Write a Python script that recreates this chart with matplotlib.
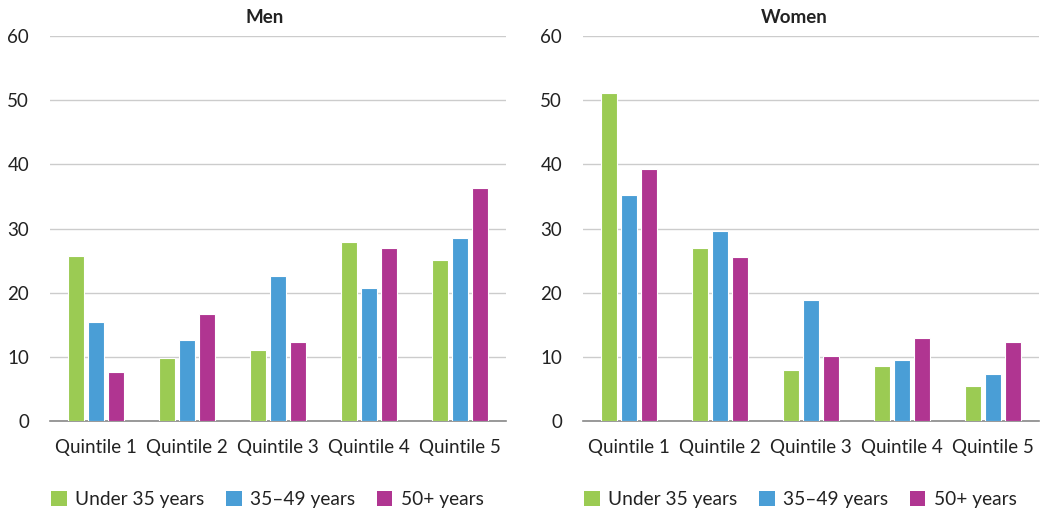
import matplotlib
matplotlib.use("Agg")
import matplotlib.pyplot as plt
import numpy as np
from matplotlib.patches import Patch

categories = ["Quintile 1", "Quintile 2", "Quintile 3", "Quintile 4", "Quintile 5"]
series_names = ["Under 35 years", "35\u201349 years", "50+ years"]
men_under35 = [25.7, 9.8, 11.1, 27.9, 25.1]
men_35_49 = [15.4, 12.6, 22.6, 20.7, 28.5]
men_50plus = [7.6, 16.7, 12.3, 27.0, 36.3]
women_under35 = [51.1, 27.0, 7.9, 8.6, 5.5]
women_35_49 = [35.2, 29.6, 18.9, 9.5, 7.3]
women_50plus = [39.2, 25.5, 10.1, 12.9, 12.3]
yticks = [0, 10, 20, 30, 40, 50, 60]

colors = ["#9BCB53", "#4A9ED6", "#B03591"]

plt.rcParams['font.family'] = ['Lato', 'DejaVu Sans']

fig = plt.figure(figsize=(10.4, 5.13), dpi=100)
ax1 = fig.add_axes([50/1040, 1-421/513, 456/1040, 385/513])
ax2 = fig.add_axes([583/1040, 1-421/513, 456/1040, 385/513])

def draw(ax, data, title, tx):
    x = np.arange(len(categories))
    w = 0.175
    step = 0.22
    for i, (vals, c) in enumerate(zip(data, colors)):
        ax.bar(x + (i-1)*step, vals, width=w, color=c, edgecolor="white", linewidth=0.8, zorder=3)
    ax.set_xlim(-0.5, len(categories)-0.5)
    ax.set_ylim(0, 60)
    ax.set_yticks(yticks)
    ax.set_yticklabels([str(t) for t in yticks], fontsize=13.5, color="#222222")
    ax.set_xticks(x)
    ax.set_xticklabels(categories, fontsize=13.5, color="#222222")
    ax.tick_params(axis='both', length=0)
    ax.tick_params(axis='y', pad=15)
    ax.tick_params(axis='x', pad=13)
    for s in ["top", "right", "left"]:
        ax.spines[s].set_visible(False)
    ax.spines["bottom"].set_color("#888888")
    ax.spines["bottom"].set_linewidth(1.2)
    ax.grid(axis='y', color="#cccccc", linewidth=1.0, zorder=0)
    ax.set_axisbelow(True)
    ax.text(tx, 1.025, title, transform=ax.transAxes, ha='center', va='bottom',
            fontsize=13.5, fontweight='bold', color="#222222")
    handles = [Patch(facecolor=c, edgecolor='none') for c in colors]
    ax.legend(handles, series_names, loc='center left', bbox_to_anchor=(0.002, -0.203),
              ncol=3, frameon=False, fontsize=13.8, handlelength=0.83, handleheight=0.83,
              handletextpad=0.45, columnspacing=1.1, borderaxespad=0, borderpad=0,
              labelcolor="#222222")

draw(ax1, [men_under35, men_35_49, men_50plus], "Men", 0.471)
draw(ax2, [women_under35, women_35_49, women_50plus], "Women", 0.463)

fig.savefig("out.png", dpi=100)
